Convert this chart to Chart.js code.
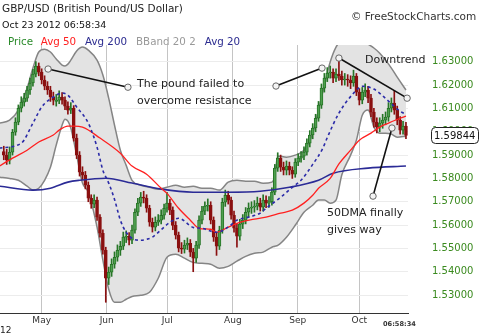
<!DOCTYPE html>
<html>
<head>
<meta charset="utf-8">
<script src="https://cdn.jsdelivr.net/npm/chart.js@4.4.0/dist/chart.umd.min.js"></script>
<style>
  body { margin: 0; background: #fff; width: 480px; height: 336px; overflow: hidden; position: relative; font-family: "DejaVu Sans", Verdana, sans-serif; }
  #wrap { position: absolute; left: 0; top: 0; width: 480px; height: 336px; }
  .t { position: absolute; white-space: nowrap; }
</style>
</head>
<body>
<div id="wrap"><canvas id="chart" width="480" height="336"></canvas></div>

<div class="t" style="left:2px;top:3.4px;font-size:10.5px;line-height:10.5px;color:#222">GBP/USD (British Pound/US Dollar)</div>
<div class="t" style="left:2px;top:19.5px;font-size:9.5px;line-height:9.5px;color:#111">Oct 23 2012 06:58:34</div>
<div class="t" style="left:351px;top:11.1px;font-size:10.5px;line-height:10.5px;color:#333">© FreeStockCharts.com</div>

<div class="t" style="left:8px;top:36.3px;font-size:10.3px;line-height:10.3px;color:#2a8a2a">Price</div>
<div class="t" style="left:40.7px;top:36.3px;font-size:10.3px;line-height:10.3px;color:#ff2020">Avg 50</div>
<div class="t" style="left:85px;top:36.3px;font-size:10.3px;line-height:10.3px;color:#2b2b8f">Avg 200</div>
<div class="t" style="left:136px;top:36.3px;font-size:10.3px;line-height:10.3px;color:#999">BBand 20 2</div>
<div class="t" style="left:204.7px;top:36.3px;font-size:10.3px;line-height:10.3px;color:#2b2b8f">Avg 20</div>

<div class="t" style="left:137px;top:77.7px;font-size:11px;line-height:11px;color:#222">The pound failed to</div>
<div class="t" style="left:137px;top:95.2px;font-size:11px;line-height:11px;color:#222">overcome resistance</div>
<div class="t" style="left:365px;top:54.2px;font-size:11px;line-height:11px;color:#222">Downtrend</div>
<div class="t" style="left:327px;top:206.7px;font-size:11px;line-height:11px;color:#222">50DMA finally</div>
<div class="t" style="left:327px;top:223.7px;font-size:11px;line-height:11px;color:#222">gives way</div>

<div class="t" style="left:0px;top:325.9px;font-size:9px;line-height:9px;color:#222">12</div>
<div class="t" style="left:383px;top:321.4px;font-size:6.6px;line-height:6.6px;font-weight:bold;color:#333">06:58:34</div>

<script>
// trading day index 0 = Apr 12 2012, last = Oct 23 2012
const opens = [
  1.5915,1.5900,1.5878,1.5913,1.5998,1.6041,1.6101,1.6127,1.6144,1.6179,
  1.6209,1.6247,1.6282,1.6256,1.6222,1.6196,1.6179,1.6149,1.6130,1.6136,
  1.6149,1.6136,1.6110,1.6093,1.6101,1.5973,1.5900,1.5827,1.5814,1.5771,
  1.5715,1.5690,1.5707,1.5634,1.5565,1.5492,1.5372,1.5398,1.5432,1.5462,
  1.5492,1.5509,1.5548,1.5552,1.5535,1.5578,1.5655,1.5694,1.5720,1.5715,
  1.5672,1.5612,1.5591,1.5612,1.5621,1.5642,1.5672,1.5694,1.5664,1.5599,
  1.5557,1.5501,1.5497,1.5514,1.5522,1.5484,1.5458,1.5514,1.5621,1.5660,
  1.5681,1.5685,1.5621,1.5548,1.5509,1.5578,1.5698,1.5728,1.5707,1.5642,
  1.5587,1.5552,1.5604,1.5621,1.5655,1.5672,1.5677,1.5681,1.5694,1.5677,
  1.5707,1.5694,1.5700,1.5741,1.5844,1.5887,1.5848,1.5835,1.5853,1.5835,
  1.5818,1.5870,1.5887,1.5895,1.5913,1.5951,1.5986,1.6016,1.6058,1.6114,
  1.6187,1.6230,1.6252,1.6256,1.6230,1.6247,1.6239,1.6222,1.6226,1.6222,
  1.6209,1.6239,1.6170,1.6136,1.6170,1.6179,1.6144,1.6084,1.6041,1.6020,
  1.6037,1.6050,1.6063,1.6101,1.6123,1.6093,1.6050,1.6007,1.6024
];
const highs = [
  1.5938,1.5925,1.5935,1.6010,1.6060,1.6115,1.6150,1.6165,1.6195,1.6230,
  1.6268,1.6301,1.6295,1.6270,1.6240,1.6215,1.6195,1.6170,1.6160,1.6175,
  1.6168,1.6150,1.6128,1.6125,1.6112,1.5990,1.5915,1.5850,1.5830,1.5785,
  1.5730,1.5730,1.5720,1.5645,1.5580,1.5505,1.5420,1.5455,1.5485,1.5515,
  1.5530,1.5570,1.5575,1.5568,1.5600,1.5670,1.5715,1.5740,1.5745,1.5730,
  1.5685,1.5630,1.5635,1.5645,1.5665,1.5690,1.5740,1.5710,1.5678,1.5615,
  1.5570,1.5525,1.5535,1.5545,1.5538,1.5500,1.5530,1.5640,1.5680,1.5700,
  1.5712,1.5700,1.5635,1.5565,1.5595,1.5715,1.5750,1.5745,1.5720,1.5660,
  1.5605,1.5625,1.5645,1.5675,1.5695,1.5700,1.5705,1.5720,1.5715,1.5730,
  1.5725,1.5722,1.5760,1.5860,1.5910,1.5900,1.5870,1.5875,1.5870,1.5850,
  1.5885,1.5905,1.5915,1.5935,1.5970,1.6005,1.6035,1.6075,1.6130,1.6205,
  1.6250,1.6275,1.6282,1.6270,1.6270,1.6309,1.6260,1.6250,1.6245,1.6240,
  1.6264,1.6250,1.6185,1.6190,1.6205,1.6195,1.6160,1.6100,1.6060,1.6060,
  1.6075,1.6085,1.6125,1.6145,1.6177,1.6110,1.6065,1.6045,1.6040
];
const lows = [
  1.5880,1.5860,1.5862,1.5900,1.5985,1.6030,1.6085,1.6110,1.6130,1.6160,
  1.6195,1.6235,1.6240,1.6205,1.6180,1.6160,1.6130,1.6115,1.6110,1.6120,
  1.6118,1.6095,1.6075,1.6078,1.5960,1.5885,1.5810,1.5795,1.5755,1.5700,
  1.5672,1.5675,1.5620,1.5548,1.5475,1.5269,1.5345,1.5380,1.5415,1.5445,
  1.5470,1.5495,1.5525,1.5515,1.5520,1.5565,1.5640,1.5680,1.5695,1.5655,
  1.5595,1.5570,1.5575,1.5598,1.5605,1.5625,1.5655,1.5645,1.5580,1.5540,
  1.5485,1.5478,1.5480,1.5495,1.5465,1.5400,1.5440,1.5500,1.5605,1.5645,
  1.5660,1.5605,1.5530,1.5470,1.5495,1.5565,1.5680,1.5690,1.5625,1.5570,
  1.5505,1.5535,1.5585,1.5605,1.5635,1.5650,1.5655,1.5665,1.5660,1.5660,
  1.5675,1.5676,1.5685,1.5730,1.5830,1.5830,1.5815,1.5815,1.5815,1.5800,
  1.5805,1.5855,1.5870,1.5880,1.5900,1.5935,1.5970,1.6000,1.6045,1.6100,
  1.6170,1.6215,1.6230,1.6210,1.6215,1.6220,1.6200,1.6200,1.6195,1.6185,
  1.6195,1.6155,1.6115,1.6120,1.6150,1.6125,1.6065,1.6020,1.5995,1.6000,
  1.6015,1.6030,1.6045,1.6085,1.6075,1.6030,1.5990,1.5990,1.5970
];
const closes = [
  1.5900,1.5878,1.5913,1.5998,1.6041,1.6101,1.6127,1.6144,1.6179,1.6209,
  1.6247,1.6282,1.6256,1.6222,1.6196,1.6179,1.6149,1.6136,1.6136,1.6149,
  1.6136,1.6110,1.6093,1.6101,1.5973,1.5900,1.5827,1.5814,1.5771,1.5715,
  1.5690,1.5707,1.5634,1.5565,1.5492,1.5372,1.5398,1.5432,1.5462,1.5492,
  1.5509,1.5548,1.5552,1.5535,1.5578,1.5655,1.5694,1.5720,1.5715,1.5672,
  1.5612,1.5591,1.5612,1.5621,1.5642,1.5672,1.5694,1.5664,1.5599,1.5557,
  1.5501,1.5497,1.5514,1.5522,1.5484,1.5458,1.5514,1.5621,1.5660,1.5681,
  1.5685,1.5621,1.5548,1.5509,1.5578,1.5698,1.5728,1.5707,1.5642,1.5587,
  1.5552,1.5604,1.5621,1.5655,1.5672,1.5677,1.5681,1.5694,1.5677,1.5707,
  1.5694,1.5700,1.5741,1.5844,1.5887,1.5848,1.5835,1.5853,1.5835,1.5818,
  1.5870,1.5887,1.5895,1.5913,1.5951,1.5986,1.6016,1.6058,1.6114,1.6187,
  1.6230,1.6252,1.6256,1.6230,1.6247,1.6239,1.6222,1.6226,1.6222,1.6209,
  1.6239,1.6170,1.6136,1.6170,1.6179,1.6144,1.6084,1.6041,1.6020,1.6037,
  1.6050,1.6063,1.6101,1.6123,1.6093,1.6050,1.6007,1.6024,1.59844
];

// Bollinger band (20, 2)
const bandIdx = [-1.5,2,5,8,10,12,14,16,18,20,21,22,23,25,27,29,32,34,36,38,40,42,44,47,50,53,56,59,62,65,
  68,71,74,77,80,83,86,89,92,93,94,97,100,103,106,108,110,112,114,116,119,121,123,125,127,129,131,133,135,138];
const bandUpper = [1.6037,1.6050,1.6093,1.6187,1.6273,1.6342,1.6354,1.6342,1.6312,1.6286,
  1.6282,1.6290,1.6307,1.6346,1.6363,1.6350,1.6307,1.6243,1.6144,1.6028,
  1.5921,1.5856,1.5792,1.5771,1.5762,1.5754,1.5762,1.5771,1.5762,1.5766,
  1.5758,1.5758,1.5750,1.5784,1.5792,1.5788,1.5788,1.5779,1.5784,1.5813,
  1.5896,1.5891,1.5900,1.5921,1.5994,1.6093,1.6200,1.6299,1.6363,1.6393,
  1.6402,1.6402,1.6393,1.6376,1.6359,1.6337,1.6307,1.6273,1.6234,1.6179];
const bandLower = [1.5805,1.5800,1.5792,1.5767,1.5750,1.5758,1.5792,1.5848,1.5943,1.6028,
  1.6054,1.6046,1.6016,1.5900,1.5780,1.5741,1.5591,1.5450,1.5325,1.5269,
  1.5269,1.5282,1.5294,1.5299,1.5312,1.5372,1.5462,1.5475,1.5458,1.5440,
  1.5436,1.5432,1.5415,1.5423,1.5445,1.5466,1.5479,1.5484,1.5505,1.5509,
  1.5513,1.5548,1.5599,1.5655,1.5685,1.5707,1.5707,1.5694,1.5707,1.5816,
  1.5900,1.5964,1.6071,1.6093,1.6020,1.5994,1.5994,1.5990,1.5977,1.5981];

const avg20Idx = [-1.5,6,10,13,17,20,22,25,29,32,34,36,38,40,42,44,47,49,51,54,57,60,65,68,73,77,80,84,88,90,95,99,102,106,109.5,111,115,120,123,127,131,136,138];
const avg20 = [1.5930,1.5951,1.6037,1.6106,1.6149,1.6166,1.6157,1.6106,1.6037,1.5934,
  1.5835,1.5780,1.5710,1.5621,1.5569,1.5543,1.5535,1.5539,1.5548,1.5580,
  1.5612,1.5629,1.5590,1.5586,1.5569,1.5591,1.5621,1.5634,1.5651,1.5672,
  1.5719,1.5762,1.5792,1.5860,1.5930,1.5975,1.6080,1.6165,1.6195,1.6183,
  1.6143,1.6088,1.6075];

const avg50Idx = [-1.5,3,8,12,17,19,22,24,27,33,40,44,49,54,56,60,64,67,71,73,77,81,86,90,95,99,103,106,108,112,115,119,122,126,129,132,136,138];
const avg50 = [1.5853,1.5887,1.5921,1.5956,1.5986,1.6007,1.6024,1.6024,1.6020,1.5973,
  1.5908,1.5853,1.5818,1.5758,1.5736,1.5672,1.5621,1.5586,1.5582,1.5569,
  1.5591,1.5612,1.5625,1.5634,1.5651,1.5664,1.5694,1.5728,1.5758,1.5800,
  1.5862,1.5921,1.5964,1.5994,1.6020,1.6037,1.6058,1.6067];

const avg200Idx = [-1.5,10,16,22,26,35,44,54,65,77,88,98,108,113,125,138];
const avg200 = [1.5767,1.5750,1.5758,1.5784,1.5792,1.5801,1.5780,1.5754,1.5741,1.5741,1.5745,1.5762,1.5792,1.5822,1.5844,1.5853];

// month boundaries as they sit on the day axis of the picture
const monthTicks = [13, 35.3, 56.1, 78.6, 100.9, 122];
const monthLabels = ['May', 'Jun', 'Jul', 'Aug', 'Sep', 'Oct'];
const priceTicks = [1.53, 1.54, 1.55, 1.56, 1.57, 1.58, 1.59, 1.60, 1.61, 1.62, 1.63];

// annotation connectors, in (day index, price)
const noteLines = [
  [[15.2, 1.6269], [42.6, 1.6191]],
  [[93.4, 1.6196], [109.2, 1.6273]],
  [[115.0, 1.6316], [138.4, 1.6144]],
  [[133.2, 1.6016], [126.7, 1.5724]]
];

const UP = '#267526', UP_FILL = '#4f9f4f', DOWN = '#8a1010';
const isUp = i => closes[i] >= opens[i];
const pts = (xs, ys) => xs.map((x, i) => ({ x: x, y: ys[i] }));

const notes = {
  id: 'notes',
  afterDatasetsDraw(chart) {
    const { ctx, scales: { x, y } } = chart;
    ctx.save();
    noteLines.forEach(([a, b]) => {
      const x1 = x.getPixelForValue(a[0]), y1 = y.getPixelForValue(a[1]);
      const x2 = x.getPixelForValue(b[0]), y2 = y.getPixelForValue(b[1]);
      ctx.strokeStyle = '#111';
      ctx.lineWidth = 1.6;
      ctx.beginPath();
      ctx.moveTo(x1, y1);
      ctx.lineTo(x2, y2);
      ctx.stroke();
      [[x1, y1], [x2, y2]].forEach(([cx, cy]) => {
        ctx.beginPath();
        ctx.arc(cx, cy, 3.2, 0, Math.PI * 2);
        ctx.fillStyle = '#f4f4f4';
        ctx.fill();
        ctx.strokeStyle = '#666';
        ctx.lineWidth = 1;
        ctx.stroke();
      });
    });
    ctx.restore();
  },
  afterDraw(chart) {
    const { ctx, chartArea, scales: { y } } = chart;
    const last = closes[closes.length - 1];
    const py = Math.round(y.getPixelForValue(last)) + 0.5;
    const bx = chartArea.right + 23.5, bw = 47, bh = 16;
    ctx.save();
    ctx.beginPath();
    ctx.roundRect(bx, py - bh / 2, bw, bh, 4);
    ctx.fillStyle = '#fff';
    ctx.fill();
    ctx.strokeStyle = '#222';
    ctx.lineWidth = 1;
    ctx.stroke();
    ctx.fillStyle = '#111';
    ctx.font = '10px "DejaVu Sans"';
    ctx.textBaseline = 'middle';
    ctx.fillText(last.toFixed(5), bx + 2.5, py + 0.5);
    ctx.restore();
  }
};

Chart.defaults.font.family = '"DejaVu Sans", Verdana, sans-serif';

new Chart(document.getElementById('chart'), {
  type: 'bar',
  data: {
    datasets: [
      {
        type: 'line', label: 'BBand upper', data: pts(bandIdx, bandUpper),
        borderColor: '#858585', borderWidth: 1.5, pointRadius: 0,
        backgroundColor: '#e3e3e3', fill: '+1', cubicInterpolationMode: 'monotone',
        clip: 0, order: 10
      },
      {
        type: 'line', label: 'BBand lower', data: pts(bandIdx, bandLower),
        borderColor: '#858585', borderWidth: 1.5, pointRadius: 0,
        fill: false, cubicInterpolationMode: 'monotone', clip: 0, order: 9
      },
      {
        label: 'wick', data: closes.map((c, i) => ({ x: i, y: [lows[i], highs[i]] })),
        backgroundColor: ctx => isUp(ctx.dataIndex) ? UP : DOWN,
        barThickness: 1, grouped: false, order: 6
      },
      {
        label: 'Price', data: closes.map((c, i) => ({ x: i, y: [opens[i], c] })),
        backgroundColor: ctx => isUp(ctx.dataIndex) ? UP_FILL : DOWN,
        borderColor: ctx => isUp(ctx.dataIndex) ? UP : DOWN,
        borderWidth: 1, borderSkipped: false,
        barThickness: 3, grouped: false, order: 5
      },
      {
        type: 'line', label: 'Avg 200', data: pts(avg200Idx, avg200),
        borderColor: '#2b2b96', borderWidth: 1.6, pointRadius: 0,
        cubicInterpolationMode: 'monotone', clip: 0, order: 3
      },
      {
        type: 'line', label: 'Avg 50', data: pts(avg50Idx, avg50),
        borderColor: '#ff2020', borderWidth: 1.3, pointRadius: 0,
        cubicInterpolationMode: 'monotone', clip: 0, order: 2
      },
      {
        type: 'line', label: 'Avg 20', data: pts(avg20Idx, avg20),
        borderColor: '#2b2ba8', borderWidth: 1.6, borderDash: [3, 3], pointRadius: 0,
        cubicInterpolationMode: 'monotone', clip: 0, order: 1
      }
    ]
  },
  options: {
    responsive: false,
    animation: false,
    devicePixelRatio: 1,
    layout: { padding: { top: 45, left: 0, right: 0, bottom: 0 } },
    plugins: { legend: { display: false }, tooltip: { enabled: false } },
    scales: {
      x: {
        type: 'linear', min: -1.3, max: 138.7, offset: false,
        afterBuildTicks: s => { s.ticks = monthTicks.map(v => ({ value: v })); },
        afterFit: s => { s.height = 23; },
        ticks: {
          autoSkip: false, maxRotation: 0, padding: 2, color: '#333',
          font: { size: 9 },
          callback: v => monthLabels[monthTicks.indexOf(v)]
        },
        grid: { color: '#c4c4c4', drawTicks: false, offset: false },
        border: { display: true, color: '#333', width: 1 }
      },
      y: {
        position: 'right', min: 1.5223, max: 1.6372,
        afterBuildTicks: s => { s.ticks = priceTicks.map(v => ({ value: v })); },
        afterFit: s => { s.width = 72; },
        ticks: {
          padding: 4, crossAlign: 'near', color: '#3a8a1e',
          font: { size: 10 },
          callback: v => v.toFixed(5)
        },
        grid: { color: '#ececec', drawTicks: true, tickLength: 20, tickColor: 'rgba(0,0,0,0)' },
        border: { display: false }
      }
    }
  },
  plugins: [notes]
});
</script>
</body>
</html>
